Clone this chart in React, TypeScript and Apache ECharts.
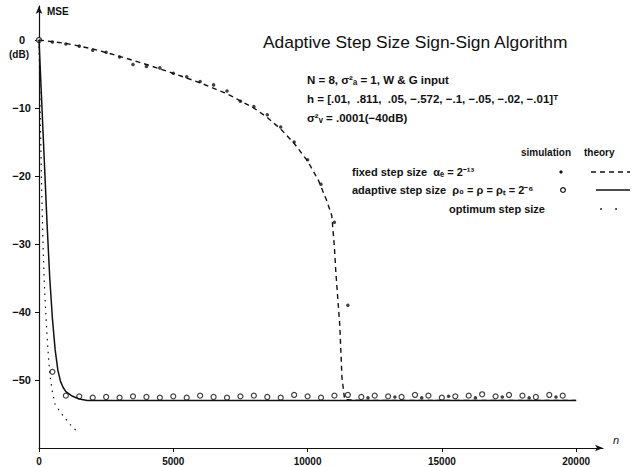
import React, { useEffect, useRef } from "react";
import * as echarts from "echarts";

// ---- data (n, MSE in dB) ----
const fixedTheoryN = [0, 1000, 2000, 3000, 4000, 5000, 6000, 7000, 8000, 8500, 9000, 9500, 10000, 10400, 10700, 10900, 11000, 11050, 11200, 11280, 11380, 12000, 20000];
const fixedTheoryDb = [0, -0.5, -1.3, -2.4, -3.6, -4.9, -6.3, -7.9, -10.0, -11.4, -13.1, -15.2, -17.8, -20.6, -23.5, -25.8, -30.5, -34, -42, -49.6, -52.9, -53.0, -53.0];

const adaptiveTheoryN = [0, 100, 200, 300, 400, 500, 600, 700, 800, 900, 1000, 1250, 1500, 1800, 20000];
const adaptiveTheoryDb = [0, -9, -18, -27, -35, -41, -45.5, -48.5, -50.2, -51.1, -51.7, -52.4, -52.8, -53.0, -53.0];

const optimumTheoryN = [0, 50, 100, 150, 200, 250, 300, 350, 400, 500, 600, 850, 1150, 1450];
const optimumTheoryDb = [0, -12, -22, -30, -36, -40, -43.5, -46.5, -49, -51.8, -53.6, -55, -56.5, -57.7];

const fixedSimN = [0, 500, 1000, 1500, 2000, 2500, 3000, 3500, 4000, 4500, 5000, 5500, 6000, 6500, 7000, 7500, 8000, 8500, 9000, 9500, 10000, 10500, 11000, 11500, 12250, 13250, 14250, 15250, 16250, 17250, 18250, 19250];
const fixedSimDb = [0, -0.3, -0.6, -0.9, -1.5, -1.8, -2.5, -3.6, -3.9, -4.1, -4.9, -5.4, -6.1, -6.6, -7.5, -9.0, -9.8, -11.0, -12.8, -15.0, -17.6, -21.2, -26.8, -39.0, -52.6, -52.5, -52.6, -52.4, -52.6, -52.5, -52.6, -52.5];

const adaptiveSimN = [0, 500, 1000, 1500, 2000, 2500, 3000, 3500, 4000, 4500, 5000, 5500, 6000, 6500, 7000, 7500, 8000, 8500, 9000, 9500, 10000, 10500, 11000, 11500, 12000, 12500, 13000, 13500, 14000, 14500, 15000, 15500, 16000, 16500, 17000, 17500, 18000, 18500, 19000, 19500];
const adaptiveSimDb = [0, -48.8, -52.3, -52.4, -52.6, -52.5, -52.6, -52.4, -52.5, -52.6, -52.4, -52.6, -52.3, -52.5, -52.6, -52.4, -52.3, -52.5, -52.6, -52.2, -52.4, -52.6, -52.3, -52.2, -52.5, -52.3, -52.4, -52.5, -52.2, -52.3, -52.6, -52.4, -52.3, -52.1, -52.4, -52.2, -52.3, -52.5, -52.2, -52.3];

const xTickValues = [0, 5000, 10000, 15000, 20000];
const yTickValues = [-50, -40, -30, -20, -10, 0];

const pairs = (xs: number[], ys: number[]) => xs.map((x, i) => [x, ys[i]]);

const FONT = "'Liberation Sans', Arial, sans-serif";

export default function App() {
  const ref = useRef<HTMLDivElement>(null);
  useEffect(() => {
    const chart = echarts.init(ref.current!, null, { renderer: "svg" });
    const txt = (text: string, x: number, y: number, font: string, align = "left") => ({
      type: "text",
      style: { text, x, y, font, fill: "#111", align, verticalAlign: "middle" },
    });
    const note = `bold 11.5px ${FONT}`;
    const leg = `bold 11px ${FONT}`;
    chart.setOption({
      animation: false,
      backgroundColor: "#fff",
      grid: { left: 39, right: 33, top: 6, bottom: 19, containLabel: false },
      xAxis: {
        type: "value",
        min: 0,
        max: 21000,
        interval: 5000,
        splitLine: { show: false },
        axisLine: { onZero: false, symbol: ["none", "arrow"], symbolSize: [5, 8], lineStyle: { color: "#111", width: 1.2 } },
        axisTick: { show: true, customValues: xTickValues, length: 4, lineStyle: { color: "#111" } },
        axisLabel: {
          customValues: xTickValues,
          color: "#111",
          fontFamily: FONT,
          fontWeight: "bold",
          fontSize: 10,
          margin: 8,
          formatter: (v: number) => String(v),
        },
      },
      yAxis: {
        type: "value",
        min: -60,
        max: 5,
        interval: 10,
        splitLine: { show: false },
        axisLine: { onZero: false, symbol: ["none", "arrow"], symbolSize: [5, 8], lineStyle: { color: "#111", width: 1.2 } },
        axisTick: { show: true, customValues: yTickValues, length: 4, lineStyle: { color: "#111" } },
        axisLabel: {
          customValues: yTickValues,
          color: "#111",
          fontFamily: FONT,
          fontWeight: "bold",
          fontSize: 11,
          margin: 8,
          formatter: (v: number) => (v === 0 ? "{z|0}" : "\u2212" + Math.abs(v)),
          rich: { z: { padding: [0, 6, 0, 0], fontFamily: FONT, fontWeight: "bold", fontSize: 11, color: "#111" } },
        },
      },
      series: [
        {
          type: "line",
          data: pairs(fixedTheoryN, fixedTheoryDb),
          showSymbol: false,
          lineStyle: { color: "#111", width: 1.4, type: [5, 4] },
        },
        {
          type: "line",
          data: pairs(adaptiveTheoryN, adaptiveTheoryDb),
          showSymbol: false,
          lineStyle: { color: "#111", width: 1.5 },
        },
        {
          type: "line",
          data: pairs(optimumTheoryN, optimumTheoryDb),
          showSymbol: false,
          lineStyle: { color: "#111", width: 1.2, type: [1.5, 5] },
        },
        {
          type: "scatter",
          data: pairs(fixedSimN, fixedSimDb),
          symbol: "circle",
          symbolSize: 3.5,
          itemStyle: { color: "#111" },
        },
        {
          type: "scatter",
          data: pairs(adaptiveSimN, adaptiveSimDb),
          symbol: "circle",
          symbolSize: 5,
          itemStyle: { color: "#fff", borderColor: "#111", borderWidth: 1.2 },
        },
      ],
      graphic: [
        txt("MSE", 47, 11, `bold 10px ${FONT}`),
        txt("(dB)", 19, 54, `bold 10px ${FONT}`, "center"),
        txt("n", 613, 440, `italic 11px ${FONT}`),
        txt("Adaptive Step Size Sign-Sign Algorithm", 263, 42, `17.4px ${FONT}`),
        txt("N = 8, \u03c3\u00b2\u2090 = 1, W & G input", 307, 80, note),
        txt("h = [.01,  .811,  .05, \u2212.572, \u2212.1, \u2212.05, \u2212.02, \u2212.01]\u1d40", 307, 99, note),
        txt("\u03c3\u00b2\u1d65 = .0001(\u221240dB)", 307, 118, note),
        txt("simulation", 521, 152, `bold 10px ${FONT}`),
        txt("theory", 584, 152, `bold 10px ${FONT}`),
        txt("fixed step size  \u03b1\u2091 = 2\u207b\u00b9\u00b3", 352, 172, leg),
        txt("adaptive step size  \u03c1\u2080 = \u03c1 = \u03c1\u209c = 2\u207b\u2076", 352, 190, leg),
        txt("optimum step size", 545, 209, leg, "right"),
        { type: "circle", shape: { cx: 561, cy: 172, r: 1.6 }, style: { fill: "#111" } },
        { type: "circle", shape: { cx: 563, cy: 190, r: 2.4 }, style: { fill: "#fff", stroke: "#111", lineWidth: 1.2 } },
        { type: "line", shape: { x1: 591, y1: 172, x2: 630, y2: 172 }, style: { stroke: "#111", lineWidth: 1.3, lineDash: [5, 4] } },
        { type: "line", shape: { x1: 596, y1: 190, x2: 630, y2: 190 }, style: { stroke: "#111", lineWidth: 1.5 } },
        { type: "circle", shape: { cx: 601, cy: 209, r: 0.9 }, style: { fill: "#111" } },
        { type: "circle", shape: { cx: 616, cy: 209, r: 0.9 }, style: { fill: "#111" } },
      ],
    });
    return () => chart.dispose();
  }, []);
  return <div ref={ref} style={{ position: "fixed", left: 0, top: 0, width: 636, height: 467, background: "#fff" }} />;
}
